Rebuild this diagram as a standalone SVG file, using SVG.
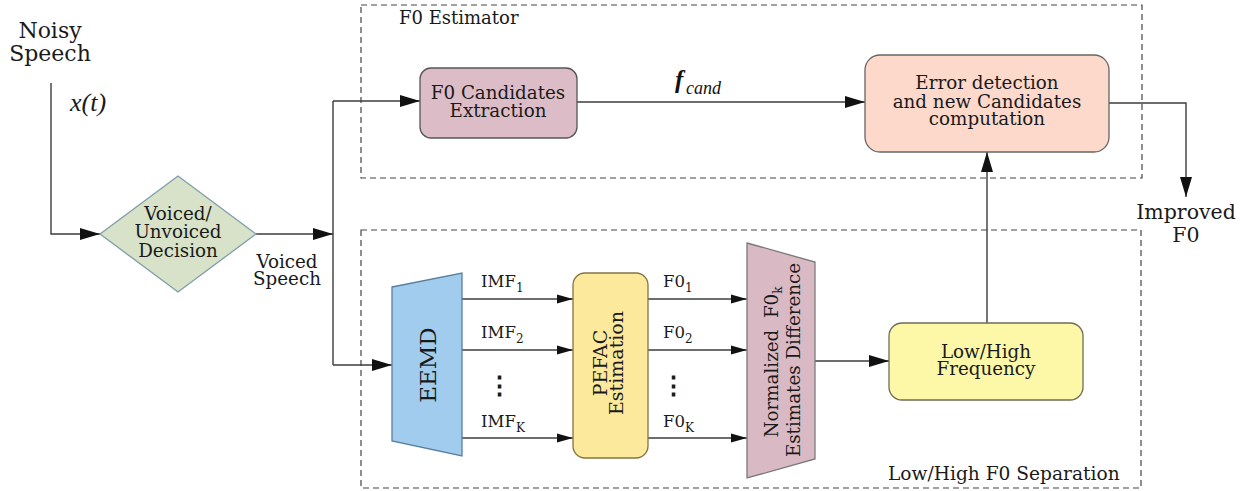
<svg xmlns="http://www.w3.org/2000/svg" width="1251" height="491" viewBox="0 0 1251 491">
<style>
.t{font-family:"DejaVu Serif","Liberation Serif",serif;fill:#1a1a1a;font-size:18.3px}
.c{text-anchor:middle}
.ln{fill:none;stroke:#3c3c3c;stroke-width:1.4}
.dash{fill:none;stroke:#444;stroke-width:1.2;stroke-dasharray:6,4}
</style>
<defs>
<marker id="arr" markerUnits="userSpaceOnUse" markerWidth="20" markerHeight="12" refX="20" refY="6" orient="auto"><path d="M0,0 L20,6 L0,12 z" fill="#111"/></marker>
<marker id="arrs" markerUnits="userSpaceOnUse" markerWidth="16" markerHeight="10" refX="16" refY="5" orient="auto"><path d="M0,0.5 L16,5 L0,9.5 z" fill="#111"/></marker>
</defs>
<rect width="1251" height="491" fill="#fff"/>

<g id="groups">
<rect class="dash" x="361" y="5" width="781" height="173"/>
<text class="t" x="399" y="24" style="font-size:18px">F0 Estimator</text>
<rect class="dash" x="361" y="230" width="780" height="258"/>
<text class="t" x="888" y="480" style="font-size:18.6px">Low/High F0 Separation</text>
</g>

<g id="connectors">
<path class="ln" d="M51,83 V234 H100" marker-end="url(#arr)"/>
<path class="ln" d="M256,234 H333" marker-end="url(#arr)"/>
<path class="ln" d="M333,101 V365"/>
<path class="ln" d="M333,101 H420" marker-end="url(#arr)"/>
<path class="ln" d="M333,365 H392" marker-end="url(#arr)"/>
<path class="ln" d="M577,102 H865" marker-end="url(#arr)"/>
<path class="ln" d="M462,299 H573" marker-end="url(#arrs)"/>
<path class="ln" d="M462,350 H573" marker-end="url(#arrs)"/>
<path class="ln" d="M462,438 H573" marker-end="url(#arrs)"/>
<path class="ln" d="M648,299 H747" marker-end="url(#arrs)"/>
<path class="ln" d="M648,350 H747" marker-end="url(#arrs)"/>
<path class="ln" d="M648,438 H747" marker-end="url(#arrs)"/>
<path class="ln" d="M815,361 H889" marker-end="url(#arr)"/>
<path class="ln" d="M987,323 V152" marker-end="url(#arr)"/>
<path class="ln" d="M1109,103 H1186 V197" marker-end="url(#arr)"/>
</g>

<g id="input">
<text class="t c" x="50" y="38" style="font-size:22px">Noisy</text>
<text class="t c" x="50" y="61" style="font-size:22px">Speech</text>
<text x="70" y="111" style="font-family:'Liberation Serif',serif;font-style:italic;font-size:26px;fill:#1a1a1a">x(t)</text>
</g>

<g id="vuv">
<path d="M100,234 L178,176 L256,234 L178,292 z" fill="#d7e2c8" stroke="#7f9cab" stroke-width="1.3"/>
<text class="t c" x="178" y="220">Voiced/</text>
<text class="t c" x="178" y="238">Unvoiced</text>
<text class="t c" x="178" y="257">Decision</text>
</g>
<g id="voiced-label">
<text class="t c" x="287" y="268">Voiced</text>
<text class="t c" x="287" y="285">Speech</text>
</g>

<g id="f0cand">
<rect x="420" y="68" width="157" height="70" rx="11" fill="#dcbdc7" stroke="#555" stroke-width="1.3"/>
<text class="t c" x="498" y="99">F0 Candidates</text>
<text class="t c" x="498" y="117">Extraction</text>
</g>

<g id="fcand-label">
<text x="675" y="88" style="font-family:'Liberation Serif',serif;font-style:italic;font-weight:bold;font-size:25px;fill:#111">f</text>
<text x="686" y="94" style="font-family:'Liberation Serif',serif;font-style:italic;font-size:18px;fill:#111">cand</text>
</g>

<g id="error">
<rect x="865" y="55" width="244" height="97" rx="15" fill="#fdd9cb" stroke="#666" stroke-width="1.3"/>
<text class="t c" x="987" y="89">Error detection</text>
<text class="t c" x="987" y="108">and new Candidates</text>
<text class="t c" x="987" y="125">computation</text>
</g>

<g id="output">
<text class="t c" x="1186" y="219" style="font-size:20.5px">Improved</text>
<text class="t c" x="1186" y="242" style="font-size:20.5px">F0</text>
</g>

<g id="eemd">
<path d="M392,287 L462,273 L462,456 L392,441 z" fill="#a1ccee" stroke="#5a7f9e" stroke-width="1.3"/>
<text class="t c" transform="translate(435.5,365) rotate(-90)" x="0" y="0" style="font-size:23px">EEMD</text>
</g>

<g id="imf-labels">
<text class="t" x="481" y="287" style="font-size:16.5px">IMF<tspan dy="5" style="font-size:12px">1</tspan></text>
<text class="t" x="481" y="338" style="font-size:16.5px">IMF<tspan dy="5" style="font-size:12px">2</tspan></text>
<text class="t c" x="499" y="394" style="font-size:25px;font-weight:bold">⋮</text>
<text class="t" x="481" y="427" style="font-size:16.5px">IMF<tspan dy="5" style="font-size:12px">K</tspan></text>
</g>

<g id="pefac">
<rect x="573" y="273" width="75" height="185" rx="12" fill="#fde99b" stroke="#827544" stroke-width="1.3"/>
<text class="t c" transform="translate(610,363) rotate(-90)" x="0" y="-3" style="font-size:19px">PEFAC</text>
<text class="t c" transform="translate(610,363) rotate(-90)" x="0" y="13" style="font-size:19px">Estimation</text>
</g>

<g id="f0-labels">
<text class="t" x="663" y="287" style="font-size:16.5px">F0<tspan dy="5" style="font-size:12px">1</tspan></text>
<text class="t" x="663" y="338" style="font-size:16.5px">F0<tspan dy="5" style="font-size:12px">2</tspan></text>
<text class="t c" x="673" y="394" style="font-size:25px;font-weight:bold">⋮</text>
<text class="t" x="663" y="427" style="font-size:16.5px">F0<tspan dy="5" style="font-size:12px">K</tspan></text>
</g>

<g id="normalized">
<path d="M747,243 L815,262 L815,459 L747,478 z" fill="#d8b9c4" stroke="#7a7a7a" stroke-width="1.3"/>
<text class="t c" transform="translate(789,362) rotate(-90)" x="0" y="-11">Normalized&#160; F0<tspan dy="4" style="font-size:12px">k</tspan></text>
<text class="t c" transform="translate(789,360) rotate(-90)" x="0" y="11">Estimates Difference</text>
</g>

<g id="lowhigh">
<rect x="889" y="323" width="194" height="77" rx="13" fill="#fcf8a8" stroke="#6f6b55" stroke-width="1.3"/>
<text class="t c" x="986" y="358">Low/High</text>
<text class="t c" x="986" y="375">Frequency</text>
</g>
</svg>
